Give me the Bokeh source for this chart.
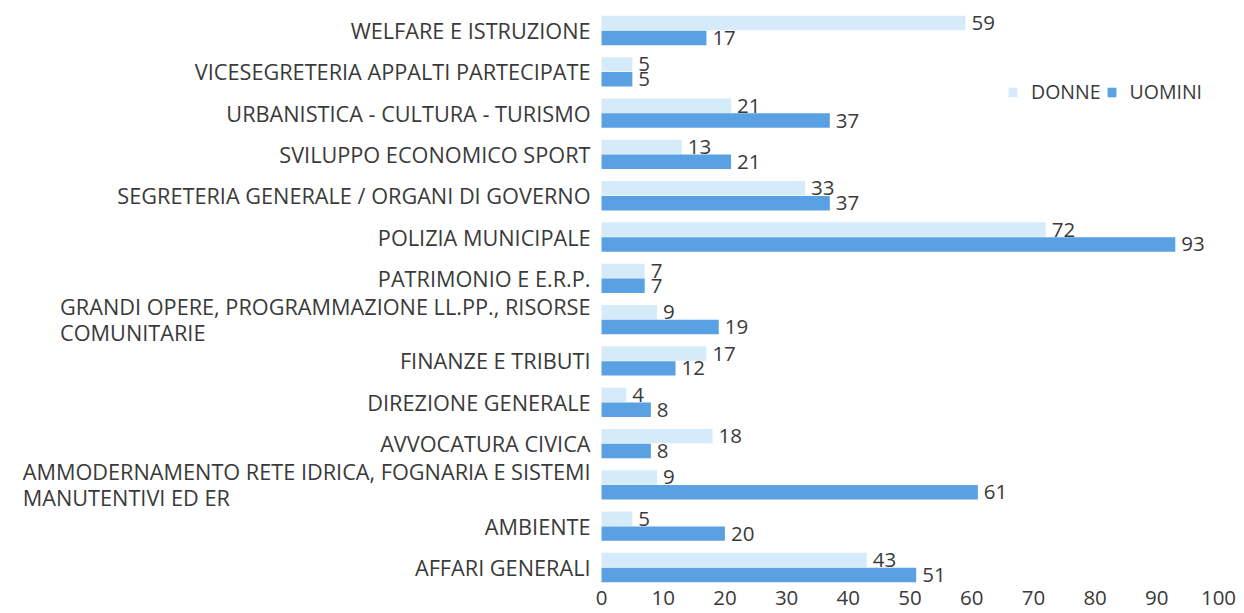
from bokeh.plotting import figure
from bokeh.models import ColumnDataSource, Range1d, FixedTicker, Legend, LegendItem
from bokeh.core.properties import value
from bokeh.embed import file_html
from bokeh.resources import INLINE

categories = [
    "WELFARE E ISTRUZIONE",
    "VICESEGRETERIA APPALTI PARTECIPATE",
    "URBANISTICA - CULTURA - TURISMO",
    "SVILUPPO ECONOMICO SPORT",
    "SEGRETERIA GENERALE / ORGANI DI GOVERNO",
    "POLIZIA MUNICIPALE",
    "PATRIMONIO E E.R.P.",
    "GRANDI OPERE, PROGRAMMAZIONE LL.PP., RISORSE\nCOMUNITARIE",
    "FINANZE E TRIBUTI",
    "DIREZIONE GENERALE",
    "AVVOCATURA CIVICA",
    "AMMODERNAMENTO RETE IDRICA, FOGNARIA E SISTEMI\nMANUTENTIVI ED ER",
    "AMBIENTE",
    "AFFARI GENERALI",
]
donne = [59, 5, 21, 13, 33, 72, 7, 9, 17, 4, 18, 9, 5, 43]
uomini = [17, 5, 37, 21, 37, 93, 7, 19, 12, 8, 8, 61, 20, 51]
x_ticks = [0, 10, 20, 30, 40, 50, 60, 70, 80, 90, 100]

FONT = "Open Sans"
TXT = "#3a3a3a"
C_D = "#d6ebf9"
C_U = "#5aa1e3"

n = len(categories)
ypos = [n - 1 - i for i in range(n)]
off = 0.18
hgt = 0.35

src = ColumnDataSource(dict(
    cat=categories,
    y=ypos,
    yd=[y + off for y in ypos],
    yu=[y - off for y in ypos],
    d=donne,
    u=uomini,
    dl=[str(v) for v in donne],
    ul=[str(v) for v in uomini],
    zero=[0] * n,
))

p = figure(
    frame_width=1218, frame_height=584,
    min_border_left=0, min_border_right=18, min_border_top=0, min_border_bottom=29,
    x_range=Range1d(-97.41, 100), y_range=Range1d(-0.4115, 13.726),
    output_backend="svg", toolbar_location=None,
)
p.outline_line_color = None
p.xgrid.visible = False
p.ygrid.visible = False
p.yaxis.visible = False

ax = p.xaxis[0]
ax.ticker = FixedTicker(ticks=x_ticks)
ax.axis_line_color = None
ax.major_tick_line_color = None
ax.minor_tick_line_color = None
ax.major_tick_out = 0
ax.major_tick_in = 0
ax.major_label_standoff = 6
ax.major_label_text_font = FONT
ax.major_label_text_font_size = "20.5px"
ax.major_label_text_color = TXT

rd = p.hbar(y="yd", left=0, right="d", height=hgt, source=src, fill_color=C_D, line_color=None)
ru = p.hbar(y="yu", left=0, right="u", height=hgt, source=src, fill_color=C_U, line_color=None)

p.text(x="d", y="yd", text="dl", source=src, x_offset=6, text_align="left", text_baseline="middle",
       text_font=value(FONT), text_font_size="20.5px", text_color=TXT)
p.text(x="u", y="yu", text="ul", source=src, x_offset=6, text_align="left", text_baseline="middle",
       text_font=value(FONT), text_font_size="20.5px", text_color=TXT)

p.text(x="zero", y="y", text="cat", source=src, x_offset=-11, anchor="center_right",
       text_align="left", text_baseline="middle", text_line_height=0.9,
       text_font=value(FONT), text_font_size="21.7px", text_color=TXT)

legend = Legend(
    items=[LegendItem(label="DONNE", renderers=[rd]), LegendItem(label="UOMINI", renderers=[ru])],
    orientation="horizontal", location=(1007, 479),
    label_text_font=FONT, label_text_font_size="19.5px", label_text_color=TXT,
    glyph_width=11, glyph_height=12, label_standoff=13, spacing=5,
    padding=0, margin=0, border_line_color=None, background_fill_alpha=0,
)
p.add_layout(legend)

open("out.html", "w").write(file_html(p, INLINE))
